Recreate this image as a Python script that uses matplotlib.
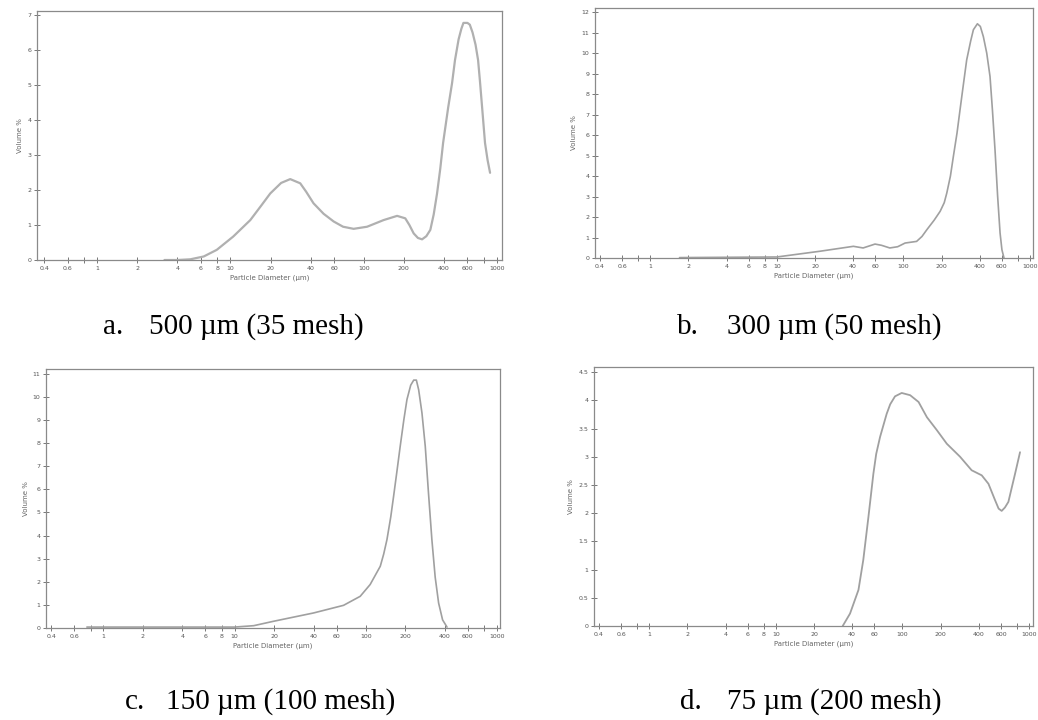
import matplotlib
matplotlib.use("Agg")
import matplotlib.pyplot as plt
from matplotlib.ticker import FixedLocator, NullFormatter

# ---- data ----
a_x = [3.2, 4.0, 5.0, 6.3, 7.9, 10.5, 14.1, 17, 19.9, 24, 28.1, 33.4, 37, 42, 50, 59.5, 70, 84, 106, 141, 178, 205, 220, 237, 255, 274, 295, 316, 335, 355, 375, 394, 430, 460, 484, 515, 540, 560, 600, 625, 655, 690, 721, 745, 773, 813, 850, 887]
a_y = [0.0, 0.0, 0.02, 0.1, 0.29, 0.67, 1.14, 1.55, 1.9, 2.2, 2.31, 2.19, 1.95, 1.62, 1.32, 1.10, 0.95, 0.89, 0.95, 1.14, 1.26, 1.19, 1.0, 0.76, 0.63, 0.59, 0.68, 0.86, 1.3, 1.9, 2.6, 3.34, 4.35, 5.05, 5.71, 6.3, 6.6, 6.77, 6.77, 6.72, 6.5, 6.15, 5.71, 5.1, 4.36, 3.34, 2.85, 2.49]

b_x = [1.7, 10, 21.9, 40.2, 48, 59.6, 67, 78, 90, 103, 127, 140, 153, 175, 195, 210, 220, 235, 248, 265, 280, 298, 316, 340, 357, 384, 405, 428, 455, 483, 505, 529, 555, 580, 600, 623]
b_y = [0.02, 0.05, 0.33, 0.57, 0.49, 0.68, 0.62, 0.49, 0.55, 0.73, 0.81, 1.05, 1.38, 1.85, 2.28, 2.7, 3.17, 4.0, 4.96, 6.1, 7.24, 8.5, 9.67, 10.6, 11.14, 11.43, 11.3, 10.8, 10.0, 8.86, 7.2, 5.28, 3.0, 1.22, 0.4, 0.0]

c_x = [0.75, 10, 14, 19.8, 40, 67.7, 90.7, 108, 129, 137, 145, 155, 163, 173, 183, 195, 206, 220, 232, 243, 253, 268, 284, 300, 319, 338, 359, 385, 416]
c_y = [0.04, 0.04, 0.1, 0.29, 0.65, 0.98, 1.37, 1.88, 2.67, 3.2, 3.82, 4.8, 5.7, 6.8, 7.86, 9.0, 9.88, 10.5, 10.72, 10.72, 10.3, 9.3, 7.86, 5.9, 3.82, 2.2, 1.08, 0.35, 0.04]

d_x = [33.7, 38.5, 44.9, 49, 53.8, 58.9, 62, 66.5, 75, 80, 87.3, 98.6, 115, 134, 156, 187, 224, 285, 352, 423, 478, 539, 575, 608, 645, 687, 730, 776, 849]
d_y = [0.0, 0.22, 0.64, 1.17, 1.93, 2.7, 3.05, 3.35, 3.76, 3.93, 4.07, 4.13, 4.09, 3.97, 3.7, 3.47, 3.23, 3.0, 2.76, 2.67, 2.52, 2.23, 2.08, 2.04, 2.1, 2.2, 2.45, 2.7, 3.08]

x_ticks = [0.4, 0.6, 1, 2, 4, 6, 8, 10, 20, 40, 60, 100, 200, 400, 600, 1000]
x_tick_labels = ["0.4", "0.6", "1", "2", "4", "6", "8", "10", "20", "40", "60", "100", "200", "400", "600", "1000"]
x_minor = [0.8, 800]

a_yticks = [0, 1, 2, 3, 4, 5, 6, 7]
b_yticks = list(range(0, 13))
c_yticks = list(range(0, 12))
d_yticks = [0, 0.5, 1, 1.5, 2, 2.5, 3, 3.5, 4, 4.5]
d_yticklabels = ["0", "0.5", "1", "1.5", "2", "2.5", "3", "3.5", "4", "4.5"]

cap_letters = ["a.", "b.", "c.", "d."]
cap_texts = ["500 µm (35 mesh)", "300 µm (50 mesh)", "150 µm (100 mesh)", "75 µm (200 mesh)"]

W, H = 1038, 720
fig = plt.figure(figsize=(W / 100, H / 100), dpi=100)
fig.patch.set_facecolor("white")

def box(l, r, t, b):
    return [l / W, (H - b) / H, (r - l) / W, (b - t) / H]

panels = [
    dict(rect=box(37, 502, 11, 260), x=a_x, y=a_y, xlim=(0.354, 1090), ylim=(0, 7.11), yt=a_yticks, ytl=[str(v) for v in a_yticks], lw=1.6, col="#b0b0b0"),
    dict(rect=box(595, 1033, 8, 258), x=b_x, y=b_y, xlim=(0.365, 1056), ylim=(0, 12.2), yt=b_yticks, ytl=[str(v) for v in b_yticks], lw=1.2, col="#a0a0a0"),
    dict(rect=box(46, 500, 369, 628), x=c_x, y=c_y, xlim=(0.366, 1054), ylim=(0, 11.2), yt=c_yticks, ytl=[str(v) for v in c_yticks], lw=1.2, col="#a0a0a0"),
    dict(rect=box(594, 1033, 367, 626), x=d_x, y=d_y, xlim=(0.365, 1075), ylim=(0, 4.59), yt=d_yticks, ytl=d_yticklabels, lw=1.3, col="#a0a0a0"),
]

for p in panels:
    ax = fig.add_axes(p["rect"])
    ax.plot(p["x"], p["y"], color=p["col"], lw=p["lw"], solid_capstyle="round", solid_joinstyle="round")
    ax.set_xscale("log")
    ax.set_xlim(*p["xlim"])
    ax.set_ylim(*p["ylim"])
    ax.xaxis.set_major_locator(FixedLocator(x_ticks))
    ax.set_xticklabels(x_tick_labels)
    ax.xaxis.set_minor_locator(FixedLocator(x_minor))
    ax.xaxis.set_minor_formatter(NullFormatter())
    ax.set_yticks(p["yt"])
    ax.set_yticklabels(p["ytl"])
    ax.tick_params(axis="both", which="both", direction="inout", length=4, width=0.7,
                   colors="#777777", labelsize=4.5, labelcolor="#555555", pad=2)
    for s in ax.spines.values():
        s.set_color("#8a8a8a")
        s.set_linewidth(0.9)
    ax.set_xlabel("Particle Diameter (µm)", fontsize=5, color="#666666", labelpad=3)
    ax.set_ylabel("Volume %", fontsize=5, color="#666666", labelpad=3)

serif = ["Liberation Serif", "DejaVu Serif"]
letter_pos = [(103, 334), (677, 334), (125, 709), (680, 709)]
text_left = [149, 727, 166, 727]
for lt, tx, (lx, by), tl in zip(cap_letters, cap_texts, letter_pos, text_left):
    fig.text(lx / W, (H - by) / H, lt, ha="left", va="baseline", fontsize=21,
             family=serif, color="black")
    fig.text(tl / W, (H - by) / H, tx, ha="left", va="baseline", fontsize=21,
             family=serif, color="black")

fig.savefig("out.png", dpi=100, facecolor="white")
